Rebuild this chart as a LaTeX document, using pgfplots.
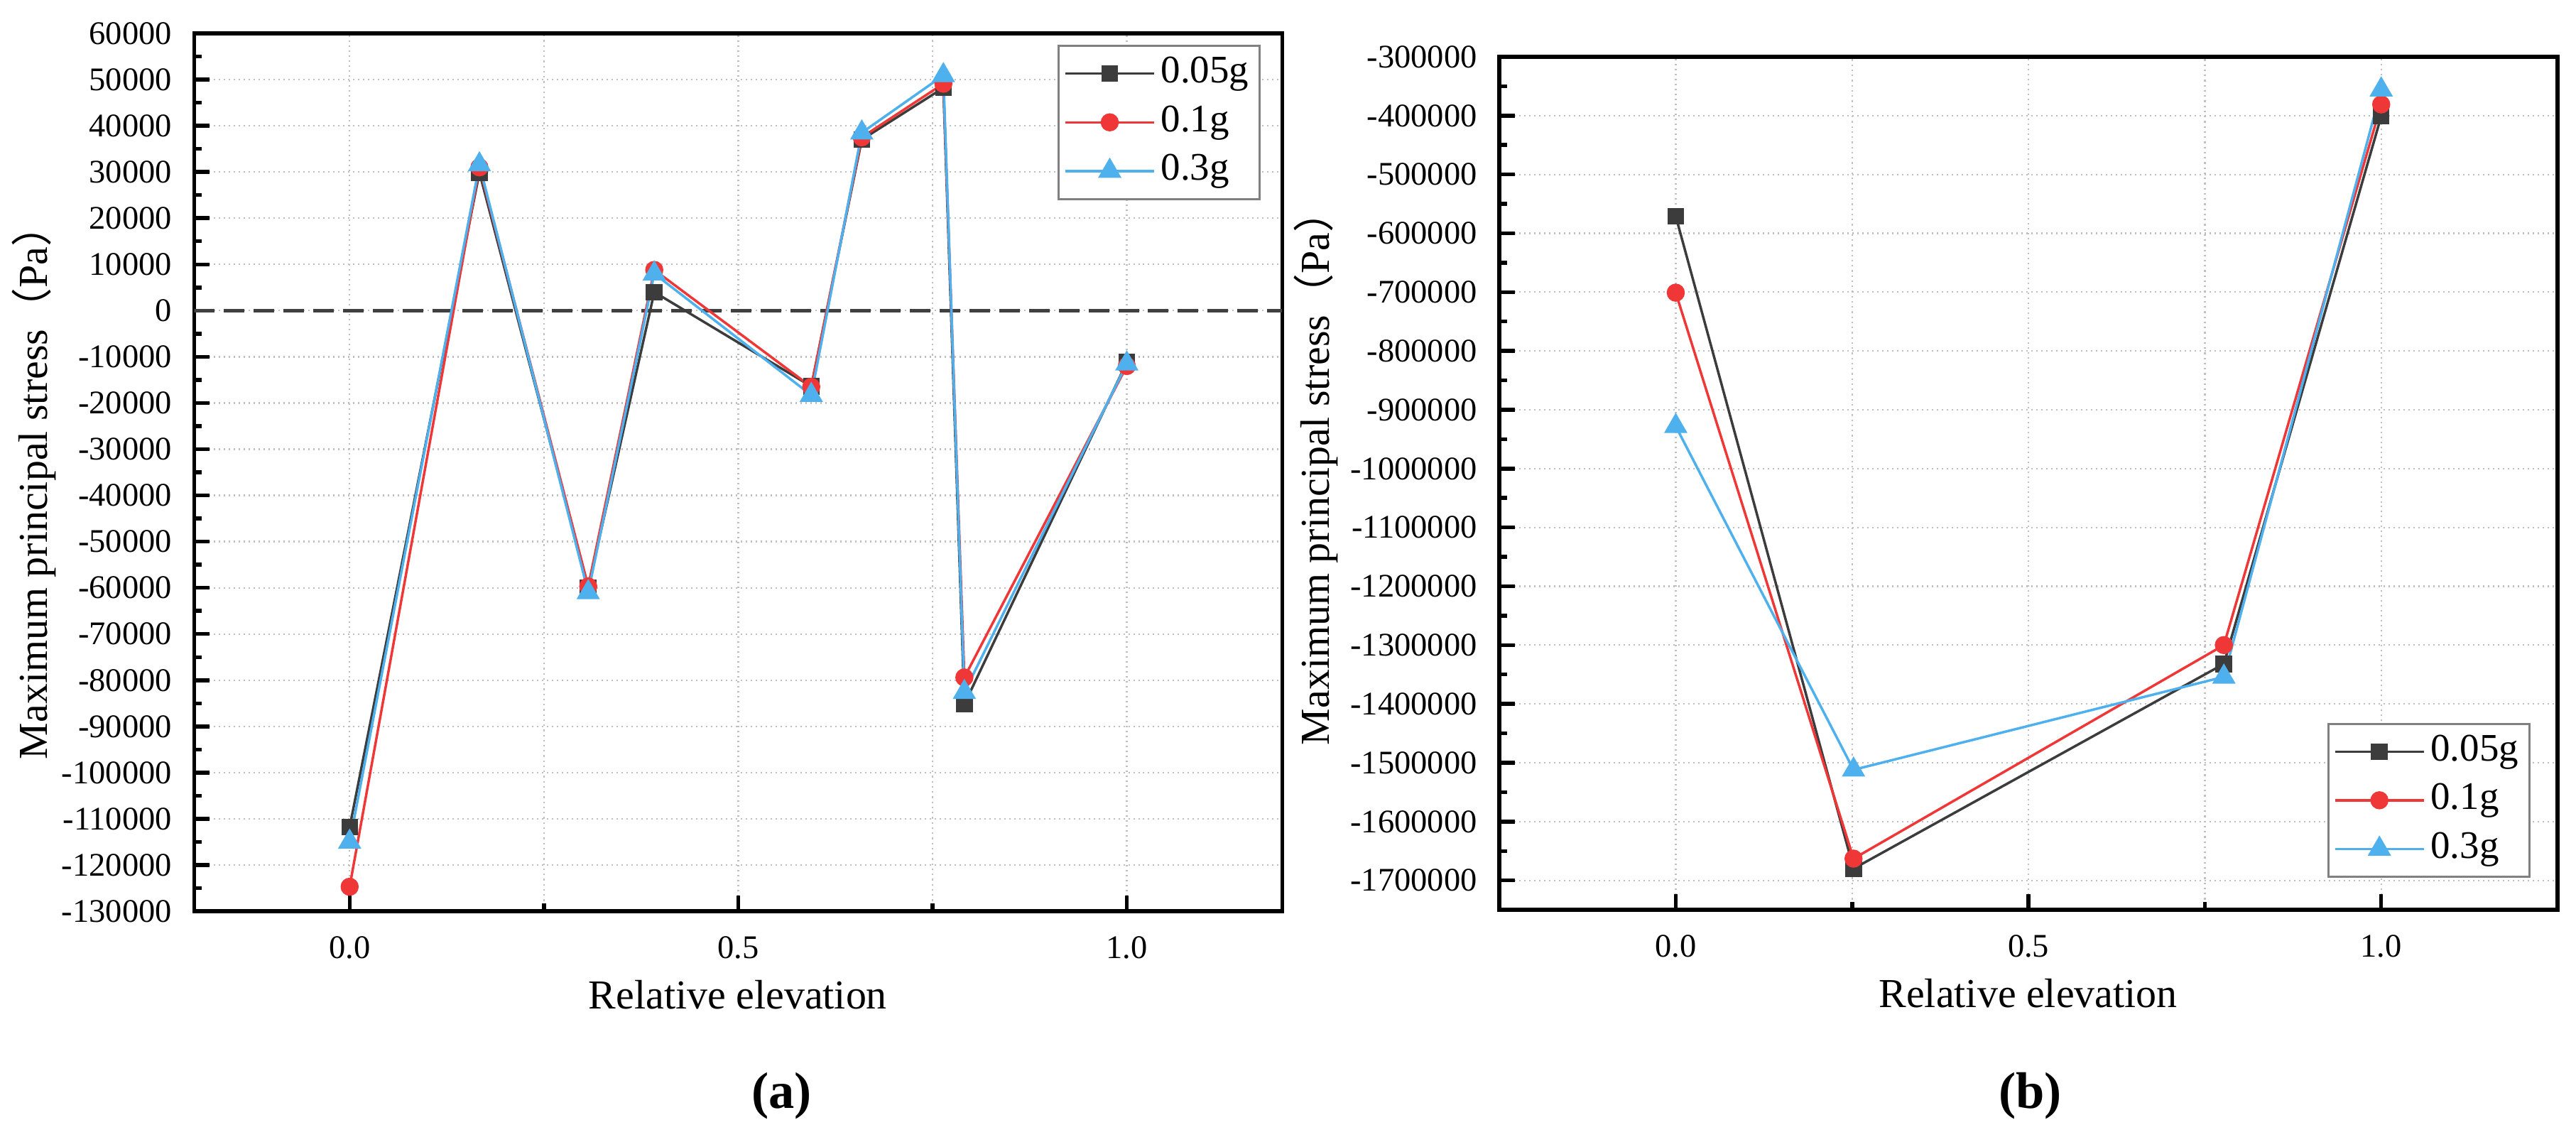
\documentclass[border=0pt]{standalone}
\usepackage{fontspec}
\setmainfont{Liberation Serif}
\newfontfamily\cjk{Noto Sans CJK SC}
\usepackage{pgfplots}
\pgfplotsset{compat=1.18}
\definecolor{cA}{RGB}{60,60,60}
\definecolor{cB}{RGB}{240,55,55}
\definecolor{cC}{RGB}{78,176,236}
\pgfplotsset{
 myax/.style={
  scale only axis,
  axis line style={line width=1.1pt},
  xmajorgrids, xminorgrids, ymajorgrids,
  grid style={densely dotted, gray!50, line width=0.45pt},
  minor grid style={densely dotted, gray!50, line width=0.45pt},
  tick align=inside, xtick pos=left, ytick pos=left,
  major tick length=4.4pt, minor tick length=2.2pt,
  tick style={black, line width=1.1pt},
  xtick={0,0.5,1}, minor xtick={0.25,0.75},
  minor y tick num=1,
  scaled ticks=false,
  /pgf/number format/assume math mode=true,
  xticklabel style={/pgf/number format/fixed, /pgf/number format/fixed zerofill, /pgf/number format/precision=1, font=\fontsize{9.3}{10}\selectfont, yshift=-3.6pt},
  yticklabel style={/pgf/number format/fixed, /pgf/number format/1000 sep={}, font=\fontsize{9.3}{10}\selectfont, xshift=-2.8pt},
  legend cell align=left,
  legend image code/.code={\draw[mark repeat=2,mark phase=2] plot coordinates {(0pt,0pt) (12.5pt,0pt) (25pt,0pt)};},
  legend style={draw=gray, line width=0.6pt, font=\fontsize{11}{12}\selectfont, inner xsep=1.5pt, inner ysep=1.5pt, row sep=1pt, nodes={inner sep=1.6pt, text depth=0.22em}},
 },
 sA/.style={color=cA, line width=0.7pt, mark=square*, mark size=2pt, mark options={solid, fill=cA}},
 sB/.style={color=cB, line width=0.7pt, mark=*, mark size=2.2pt, mark options={solid, fill=cB}},
 sC/.style={color=cC, line width=0.7pt, mark=triangle*, mark size=3.1pt, mark options={solid, fill=cC}},
}
\begin{document}
\begin{tikzpicture}
\path (0,0) rectangle (725.4pt,-321.8pt);
% ---------------- (a)
\begin{axis}[myax, at={(54.2pt,-256.8pt)}, anchor=south west,
  width=306.6pt, height=247.4pt,
  xmin=-0.2, xmax=1.2, ymin=-130000, ymax=60000, ytick distance=10000,
  legend style={at={(1,1)}, anchor=north east, xshift=-6pt, yshift=-3.2pt}]
\addplot[forget plot, color=black!75, line width=1pt, dash pattern=on 5.8pt off 2.6pt] coordinates {(-0.2,0) (1.2,0)};
\addplot[sA] coordinates {(0,-111800) (0.167,29900) (0.307,-60000) (0.392,4000) (0.594,-16400) (0.659,37000) (0.764,48200) (0.791,-85200) (1.0,-11200)};
\addlegendentry{0.05g}
\addplot[sB] coordinates {(0,-124700) (0.167,31000) (0.307,-59700) (0.392,8800) (0.594,-16500) (0.659,37500) (0.764,49100) (0.791,-79400) (1.0,-12000)};
\addlegendentry{0.1g}
\addplot[sC] coordinates {(0,-115000) (0.167,31600) (0.307,-61000) (0.392,8000) (0.594,-18300) (0.659,38500) (0.764,50900) (0.791,-82600) (1.0,-11500)};
\addlegendentry{0.3g}
\end{axis}
% ---------------- (b)
\begin{axis}[myax, at={(422pt,-256.4pt)}, anchor=south west,
  width=298.2pt, height=240.4pt,
  xmin=-0.25, xmax=1.25, ymin=-1750000, ymax=-300000, ytick distance=100000,
  legend style={at={(1,0)}, anchor=south east, xshift=-7.6pt, yshift=9pt}]
\addplot[sA] coordinates {(0,-571000) (0.252,-1680000) (0.777,-1332000) (1.0,-401000)};
\addlegendentry{0.05g}
\addplot[sB] coordinates {(0,-701000) (0.252,-1663000) (0.777,-1300000) (1.0,-381000)};
\addlegendentry{0.1g}
\addplot[sC] coordinates {(0,-928000) (0.252,-1512000) (0.777,-1354000) (1.0,-356000)};
\addlegendentry{0.3g}
\end{axis}
% ---------------- labels
\node[rotate=90, anchor=center, font=\fontsize{11.6}{13}\selectfont] at (9pt,-136pt) {Maximum principal stress{\cjk （}Pa{\cjk ）}};
\node[rotate=90, anchor=center, font=\fontsize{11.6}{13}\selectfont] at (370.4pt,-132pt) {Maximum principal stress{\cjk （}Pa{\cjk ）}};
\node[anchor=base, font=\fontsize{11.6}{13}\selectfont] at (207.4pt,-284.4pt) {Relative elevation};
\node[anchor=base, font=\fontsize{11.6}{13}\selectfont] at (571pt,-284pt) {Relative elevation};
\node[anchor=base, font=\bfseries\fontsize{14.5}{16}\selectfont] at (219.8pt,-312.4pt) {(a)};
\node[anchor=base, font=\bfseries\fontsize{14.5}{16}\selectfont] at (571.6pt,-312.4pt) {(b)};
\end{tikzpicture}
\end{document}
